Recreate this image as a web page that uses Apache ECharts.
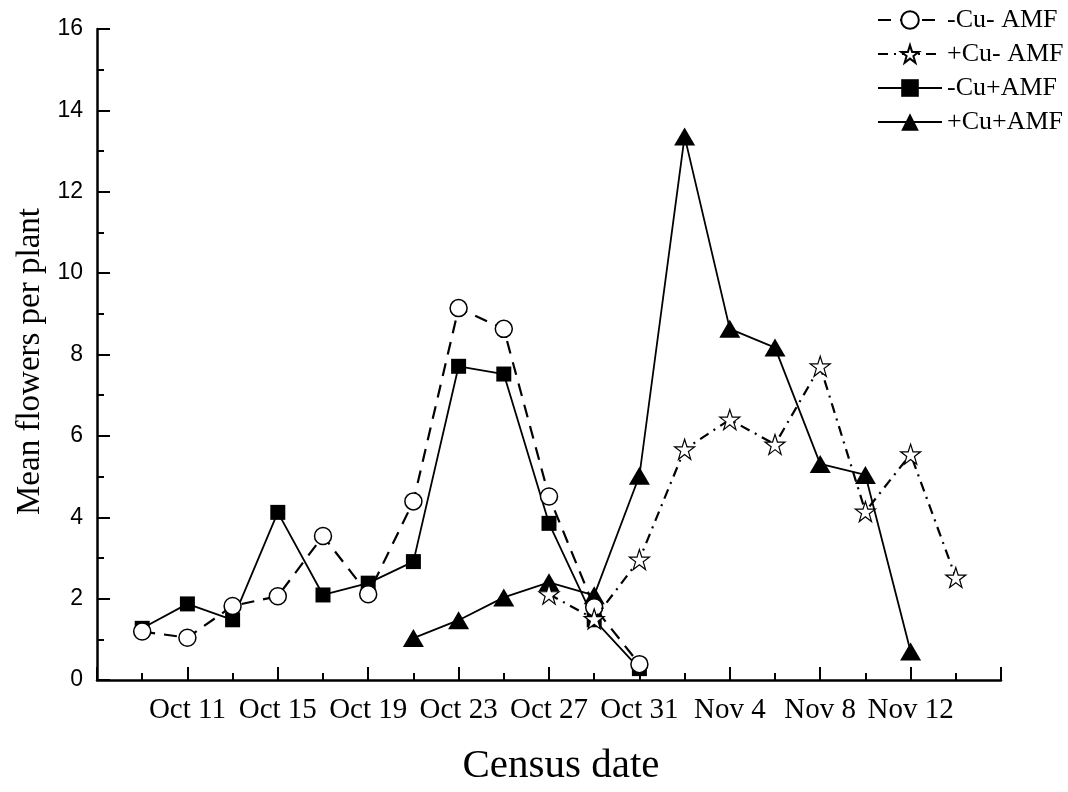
<!DOCTYPE html>
<html>
<head>
<meta charset="utf-8">
<script src="https://cdn.jsdelivr.net/npm/echarts@6/dist/echarts.min.js"></script>
<style>
html,body{margin:0;padding:0;background:#fff;}
#chart{width:1068px;height:792px;}
</style>
</head>
<body>
<div id="chart"></div>
<script>
// ---- data ----
var datesEarly = ['Oct 9','Oct 11','Oct 13','Oct 15','Oct 17','Oct 19','Oct 21','Oct 23','Oct 25','Oct 27','Oct 29','Oct 31'];
var negCuNegAMF = [1.19, 1.04, 1.82, 2.06, 3.54, 2.11, 4.39, 9.14, 8.63, 4.51, 1.79, 0.39];
var negCuPosAMF = [1.27, 1.87, 1.48, 4.12, 2.09, 2.38, 2.91, 7.71, 7.52, 3.85, 1.48, 0.28];

var datesStar = ['Oct 27','Oct 29','Oct 31','Nov 2','Nov 4','Nov 6','Nov 8','Nov 10','Nov 12','Nov 14'];
var posCuNegAMF = [2.11, 1.50, 2.96, 5.67, 6.40, 5.79, 7.71, 4.14, 5.55, 2.52];

var datesTri = ['Oct 21','Oct 23','Oct 25','Oct 27','Oct 29','Oct 31','Nov 2','Nov 4','Nov 6','Nov 8','Nov 10','Nov 12'];
var posCuPosAMF = [1.03, 1.47, 2.03, 2.40, 2.08, 5.02, 13.36, 8.63, 8.17, 5.31, 5.04, 0.70];

var xTickLabels = ['Oct 11','Oct 15','Oct 19','Oct 23','Oct 27','Oct 31','Nov 4','Nov 8','Nov 12'];
var axisStart = 'Oct 7';
var axisEnd = 'Nov 16';
var seriesNames = ['-Cu- AMF', '+Cu- AMF', '-Cu+AMF', '+Cu+AMF'];

// ---- helpers ----
function dayOf(s) {
  var p = s.split(' ');
  var d = parseInt(p[1], 10);
  return (p[0] === 'Nov' ? 31 : 0) + d;
}
var d0 = dayOf(axisStart);
function xOf(s) { return dayOf(s) - d0; }
function pairs(dates, vals) {
  return dates.map(function (d, i) { return [xOf(d), vals[i]]; });
}

var starPath = 'path://M50,2 L61.5,37 L98,37 L68.5,58.5 L79.5,94 L50,72 L20.5,94 L31.5,58.5 L2,37 L38.5,37 Z';
var serif = 'Liberation Serif, Times New Roman, serif';
var sans = 'Liberation Sans, Arial, sans-serif';

var chart = echarts.init(document.getElementById('chart'), null, {renderer: 'canvas'});
chart.setOption({
  backgroundColor: '#ffffff',
  animation: false,
  grid: {left: 97, right: 67, top: 29, bottom: 103, containLabel: false},
  legend: {
    orient: 'vertical',
    left: 872,
    top: 2,
    itemWidth: 64,
    itemHeight: 22,
    itemGap: 8,
    textStyle: {fontFamily: serif, fontSize: 26, color: '#000'},
    data: seriesNames
  },
  xAxis: {
    type: 'value',
    min: 0,
    max: xOf(axisEnd),
    interval: 4,
    name: 'Census date',
    nameLocation: 'middle',
    nameGap: 66,
    nameTextStyle: {fontFamily: serif, fontSize: 41, color: '#000', padding: [0, 0, 0, 24]},
    axisLine: {show: true, lineStyle: {color: '#000', width: 2.5}},
    axisTick: {show: true, inside: true, length: 13, lineStyle: {color: '#000', width: 2}},
    minorTick: {show: true, splitNumber: 2, length: 7, lineStyle: {color: '#000', width: 2}},
    splitLine: {show: false},
    minorSplitLine: {show: false},
    axisLabel: {
      fontFamily: serif, fontSize: 29, color: '#000', margin: 16,
      formatter: function (v) {
        for (var i = 0; i < xTickLabels.length; i++) {
          if (xOf(xTickLabels[i]) === v) return xTickLabels[i];
        }
        return '';
      }
    }
  },
  yAxis: {
    type: 'value',
    min: 0,
    max: 16,
    interval: 2,
    name: 'Mean flowers per plant',
    nameLocation: 'middle',
    nameGap: 50,
    nameTextStyle: {fontFamily: serif, fontSize: 33, color: '#000', padding: [0, 14, 0, 0]},
    axisLine: {show: true, lineStyle: {color: '#000', width: 2.5}},
    axisTick: {show: true, inside: true, length: 13, lineStyle: {color: '#000', width: 2}},
    minorTick: {show: true, splitNumber: 2, length: 7, lineStyle: {color: '#000', width: 2}},
    splitLine: {show: false},
    minorSplitLine: {show: false},
    axisLabel: {fontFamily: sans, fontSize: 23, color: '#000', margin: 14}
  },
  series: [
    {
      name: seriesNames[0],
      type: 'line',
      z: 4,
      data: pairs(datesEarly, negCuNegAMF),
      symbol: 'circle',
      symbolSize: 17,
      lineStyle: {color: '#000', width: 2.2, type: [13, 9]},
      itemStyle: {color: '#fff', borderColor: '#000', borderWidth: 1.5}
    },
    {
      name: seriesNames[1],
      type: 'line',
      z: 5,
      data: pairs(datesStar, posCuNegAMF),
      symbol: starPath,
      symbolSize: 20,
      lineStyle: {color: '#000', width: 2.2, type: [10, 6, 2, 6]},
      itemStyle: {color: '#fff', borderColor: '#000', borderWidth: 1.2}
    },
    {
      name: seriesNames[2],
      type: 'line',
      z: 2,
      data: pairs(datesEarly, negCuPosAMF),
      symbol: 'rect',
      symbolSize: 15,
      lineStyle: {color: '#000', width: 1.8, type: 'solid'},
      itemStyle: {color: '#000', borderColor: '#000', borderWidth: 0}
    },
    {
      name: seriesNames[3],
      type: 'line',
      z: 3,
      data: pairs(datesTri, posCuPosAMF),
      symbol: 'triangle',
      symbolSize: [21, 18],
      lineStyle: {color: '#000', width: 1.8, type: 'solid'},
      itemStyle: {color: '#000', borderColor: '#000', borderWidth: 0}
    }
  ]
});
</script>
</body>
</html>
